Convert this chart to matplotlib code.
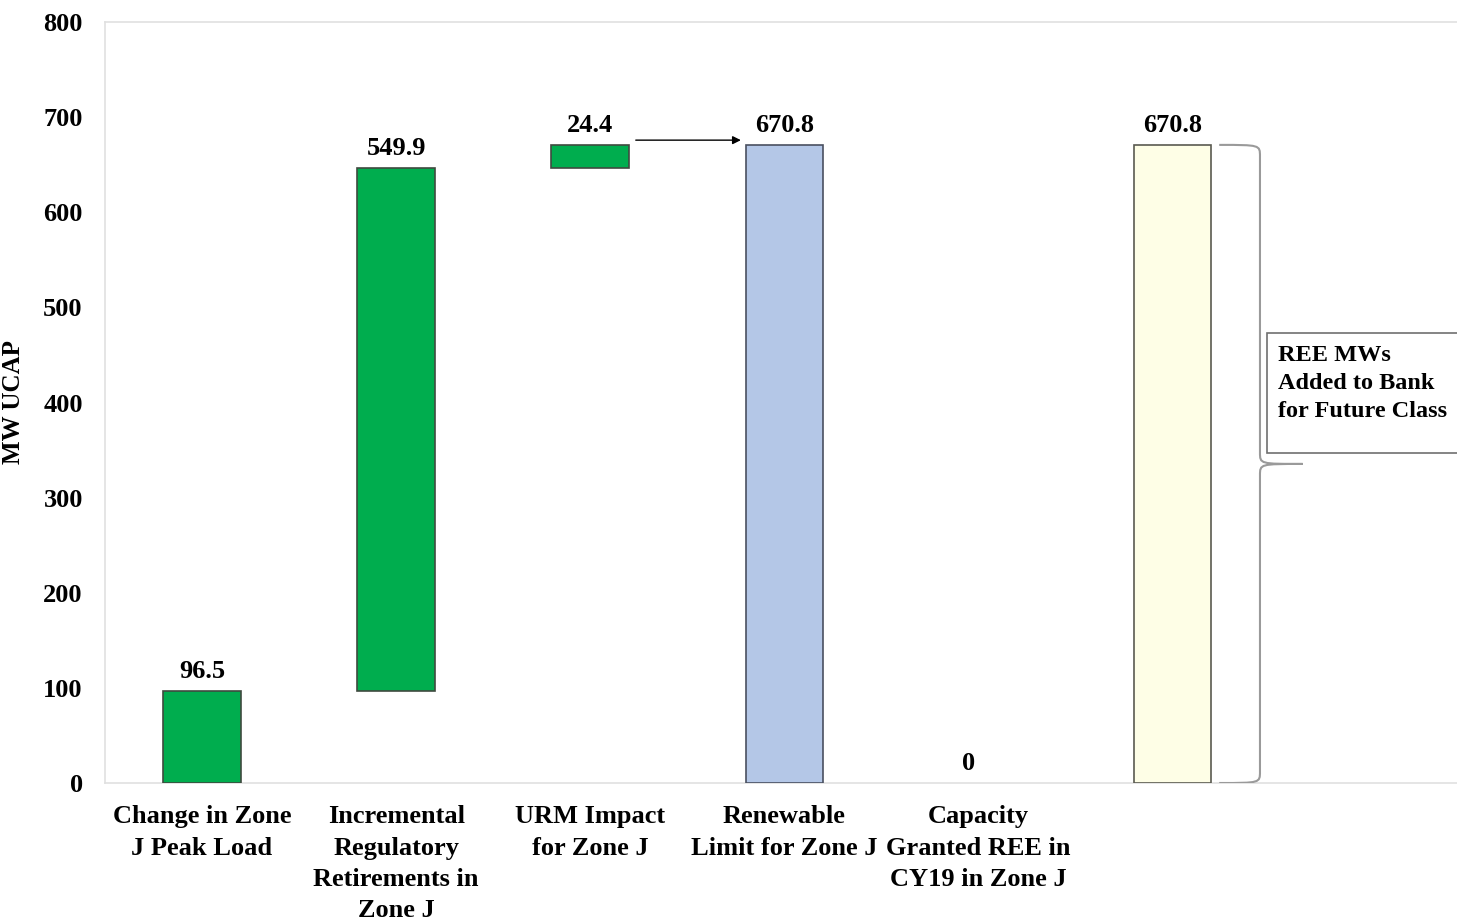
import matplotlib.pyplot as plt
from matplotlib.patches import Rectangle, PathPatch
from matplotlib.path import Path

plt.rcParams['font.family'] = ['Liberation Serif', 'DejaVu Serif']
plt.rcParams['font.weight'] = 'bold'

categories = ["Change in Zone\nJ Peak Load",
              "Incremental\nRegulatory\nRetirements in\nZone J",
              "URM Impact\nfor Zone J",
              "Renewable\nLimit for Zone J",
              "Capacity\nGranted REE in\nCY19 in Zone J",
              ""]
steps = [96.5, 549.9, 24.4]        # incremental changes
limit_total = 670.8                # renewable limit
granted = 0                        # capacity granted
banked = 670.8                     # added to bank
value_labels = ["96.5", "549.9", "24.4", "670.8", "0", "670.8"]
box_text = "REE MWs\nAdded to Bank\nfor Future Class"

green = "#00AD4E"
blue = "#B4C7E7"
yellow = "#FEFEE6"
edge = "#3f4a3f"

fig = plt.figure(figsize=(14.57, 9.17), dpi=100)
ax = fig.add_axes([105 / 1457, 134 / 917, 1 - 105 / 1457, 761 / 917])

x = list(range(len(categories)))
bottoms = [0, steps[0], steps[0] + steps[1]]
heights = steps + [limit_total, granted, banked]
bottoms = bottoms + [0, 0, 0]
colors = [green, green, green, blue, "none", yellow]
w = 0.4
bars = ax.bar(x, heights, bottom=bottoms, width=w, color=colors,
              edgecolor=[edge, edge, edge, "#4a5060", "none", "#5a5a50"], linewidth=1.2, zorder=3)

for i, (b, h, lab) in enumerate(zip(bottoms, heights, value_labels)):
    dx = -7 if i == 4 else 0
    ax.annotate(lab, (x[i], b + h), xytext=(dx, 6), textcoords="offset points",
                ha="center", va="bottom", fontsize=19, fontweight="bold")

# arrow from URM bar to renewable limit
ax.annotate("", xy=(x[3] - w / 2 - 0.01, limit_total + 5), xytext=(x[2] + w / 2 + 0.02, limit_total + 5),
            arrowprops=dict(arrowstyle="-|>", color="black", lw=1, mutation_scale=12), zorder=4)

# curly brace next to last bar
x0, xm, xt = x[5] + 0.24, x[5] + 0.45, x[5] + 0.67
top, bot = banked, 0
mid = (top + bot) / 2
r = 12
verts = [(x0, top), (xm, top), (xm, top), (xm, top - r),
         (xm, mid + r),
         (xm, mid), (xm, mid), (xt, mid),
         (xm, mid), (xm, mid), (xm, mid - r),
         (xm, bot + r),
         (xm, bot), (xm, bot), (x0, bot)]
codes = [Path.MOVETO, Path.CURVE4, Path.CURVE4, Path.CURVE4,
         Path.LINETO,
         Path.CURVE4, Path.CURVE4, Path.CURVE4,
         Path.CURVE4, Path.CURVE4, Path.CURVE4,
         Path.LINETO,
         Path.CURVE4, Path.CURVE4, Path.CURVE4]
ax.add_patch(PathPatch(Path(verts, codes), facecolor="none", edgecolor="#9a9a9a", lw=1.5, zorder=3))

ax.add_patch(Rectangle((x[5] + 0.485, 347), 1.2, 126, facecolor="white",
                       edgecolor="#707070", lw=1.2, clip_on=False, zorder=4))
ax.text(x[5] + 0.545, 460, box_text, ha="left", va="top", fontsize=17.5,
        fontweight="bold", linespacing=1.42, zorder=5)

ax.set_xlim(-0.5, 6.465)
ax.set_ylim(0, 800)
ax.set_yticks(range(0, 801, 100))
ax.set_xticks(x)
ax.set_xticklabels(categories, fontsize=19, fontweight="bold", linespacing=1.46)
ax.tick_params(axis="both", length=0, labelsize=19)
ax.tick_params(axis="y", pad=16)
ax.tick_params(axis="x", pad=16)
for s in ["left", "top", "bottom"]:
    ax.spines[s].set_color("#e0e0e0")
    ax.spines[s].set_linewidth(1.2)
ax.spines["right"].set_visible(False)
ax.set_ylabel("MW UCAP", fontsize=18, fontweight="bold")
ax.yaxis.set_label_coords(-80 / 1352, 0.5)

fig.savefig("out.png", dpi=100)
